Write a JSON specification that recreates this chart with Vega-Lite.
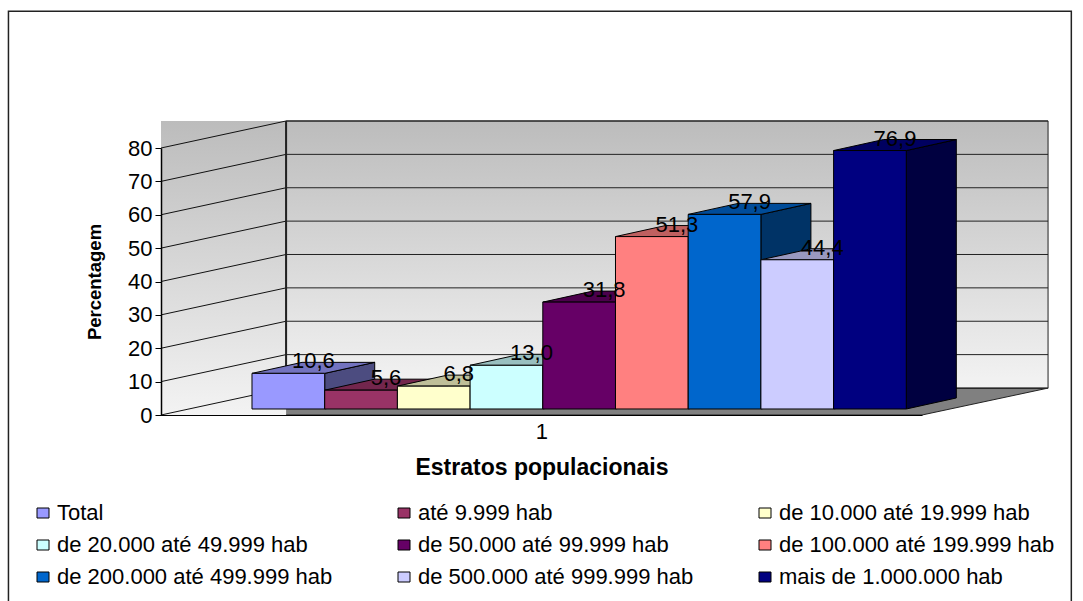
{
  "$schema": "https://vega.github.io/schema/vega-lite/v6.json",
  "width": 761,
  "height": 267,
  "autosize": "none",
  "padding": {"left": 161, "top": 148, "right": 161, "bottom": 186},
  "background": "white",
  "config": {
    "view": {"stroke": null},
    "font": "Liberation Sans",
    "axisY": {"tickCount": 9, "labelOverlap": false, "values": [0, 10, 20, 30, 40, 50, 60, 70, 80]}
  },
  "datasets": {
    "estratos": [
      {"estrato": "Total", "ordem": 0, "valor": 10.6},
      {"estrato": "até 9.999 hab", "ordem": 1, "valor": 5.6},
      {"estrato": "de 10.000 até 19.999 hab", "ordem": 2, "valor": 6.8},
      {"estrato": "de 20.000 até 49.999 hab", "ordem": 3, "valor": 13.0},
      {"estrato": "de 50.000 até 99.999 hab", "ordem": 4, "valor": 31.8},
      {"estrato": "de 100.000 até 199.999 hab", "ordem": 5, "valor": 51.3},
      {"estrato": "de 200.000 até 499.999 hab", "ordem": 6, "valor": 57.9},
      {"estrato": "de 500.000 até 999.999 hab", "ordem": 7, "valor": 44.4},
      {"estrato": "mais de 1.000.000 hab", "ordem": 8, "valor": 76.9}
    ],
    "grade": [
      {"nivel": 0}, {"nivel": 10}, {"nivel": 20}, {"nivel": 30}, {"nivel": 40},
      {"nivel": 50}, {"nivel": 60}, {"nivel": 70}, {"nivel": 80}
    ],
    "unico": [{"peca": "fundo"}]
  },
  "resolve": {"scale": {"color": "independent"}},
  "layer": [
    {
      "data": {"name": "unico"},
      "mark": {"type": "rect", "fill": "white", "stroke": "#222222", "strokeWidth": 1.5},
      "encoding": {
        "x": {
          "datum": -3.35, "type": "quantitative",
          "scale": {"domain": [-1.2517, 9.216], "nice": false, "zero": false},
          "axis": {
            "values": [3.982], "labelExpr": "'1'", "ticks": false, "grid": false,
            "domainColor": "#000000", "domainWidth": 1.2,
            "labelFontSize": 22, "labelColor": "#000000", "labelPadding": 6,
            "title": "Estratos populacionais", "titleFontSize": 23, "titleFontWeight": "bold",
            "titleColor": "#000000", "titlePadding": 14, "zindex": 1
          }
        },
        "x2": {"datum": 11.27},
        "y": {
          "datum": 121, "type": "quantitative",
          "scale": {"domain": [0, 80], "nice": false, "zero": false},
          "axis": {
            "values": [0, 10, 20, 30, 40, 50, 60, 70, 80], "tickCount": 9, "grid": false, "labelOverlap": false,
            "domainColor": "#000000", "domainWidth": 1.5,
            "tickColor": "#000000", "tickSize": 6, "tickWidth": 1,
            "labelFontSize": 22, "labelColor": "#000000", "labelPadding": 3,
            "title": "Percentagem", "titleFontSize": 18.5, "titleFontWeight": "bold",
            "titleColor": "#000000", "titlePadding": 23, "zindex": 1
          }
        },
        "y2": {"datum": -70}
      }
    },
    {
      "data": {"name": "grade"},
      "transform": [
        {"filter": "datum.nivel === 0"},
        {"calculate": "[0, 1]", "as": "d"},
        {"flatten": ["d"]},
        {"calculate": "-1.2517 + 1.72 * datum.d", "as": "x0"},
        {"calculate": "9.216 + 1.72 * datum.d", "as": "x1"},
        {"calculate": "8 * datum.d", "as": "y0"}
      ],
      "mark": {"type": "area", "orient": "horizontal", "fill": "#808080", "stroke": "#222222", "strokeWidth": 1},
      "encoding": {
        "x": {"field": "x0", "type": "quantitative", "stack": null},
        "x2": {"field": "x1"},
        "y": {"field": "y0", "type": "quantitative"}
      }
    },
    {
      "data": {"name": "unico"},
      "mark": {
        "type": "rect",
        "fill": {"gradient": "linear", "x1": 0, "y1": 0, "x2": 0, "y2": 1,
          "stops": [{"offset": 0, "color": "#bcbcbc"}, {"offset": 1, "color": "#f3f3f3"}]}
      },
      "encoding": {
        "x": {"datum": -1.2517, "type": "quantitative"},
        "x2": {"datum": 0.469},
        "y": {"datum": 88.09, "type": "quantitative"},
        "y2": {"datum": 0}
      }
    },
    {
      "data": {"name": "unico"},
      "mark": {
        "type": "rect",
        "stroke": "#222222", "strokeWidth": 1,
        "fill": {"gradient": "linear", "x1": 0, "y1": 0, "x2": 0, "y2": 1,
          "stops": [{"offset": 0, "color": "#bcbcbc"}, {"offset": 1, "color": "#f3f3f3"}]}
      },
      "encoding": {
        "x": {"datum": 0.469, "type": "quantitative"},
        "x2": {"datum": 10.95},
        "y": {"datum": 88.09, "type": "quantitative"},
        "y2": {"datum": 8}
      }
    },
    {
      "data": {"name": "grade"},
      "transform": [{"calculate": "datum.nivel + 8.09", "as": "fundo"}],
      "mark": {"type": "rule", "color": "#111111", "strokeWidth": 1},
      "encoding": {
        "x": {"datum": -1.2517, "type": "quantitative"},
        "x2": {"datum": 0.469},
        "y": {"field": "nivel", "type": "quantitative"},
        "y2": {"field": "fundo"}
      }
    },
    {
      "data": {"name": "grade"},
      "transform": [{"calculate": "datum.nivel + 8.09", "as": "fundo"}],
      "mark": {"type": "rule", "color": "#222222", "strokeWidth": 1},
      "encoding": {
        "x": {"datum": 0.469, "type": "quantitative"},
        "x2": {"datum": 10.95},
        "y": {"field": "fundo", "type": "quantitative"}
      }
    },
    {
      "data": {"name": "unico"},
      "mark": {"type": "rule", "color": "#222222", "strokeWidth": 2},
      "encoding": {
        "x": {"datum": 0.469, "type": "quantitative"},
        "y": {"datum": 8.09, "type": "quantitative"},
        "y2": {"datum": 88.09}
      }
    },
    {
      "data": {"name": "estratos"},
      "transform": [
        {"calculate": "[0, 1]", "as": "d"},
        {"flatten": ["d"]},
        {"calculate": "datum.ordem + 1 + 0.688 * datum.d", "as": "xFace"},
        {"calculate": "1.8 + 3.3 * datum.d", "as": "yBase"},
        {"calculate": "1.8 + 1.007 * datum.valor + 3.3 * datum.d", "as": "yTopo"}
      ],
      "mark": {"type": "area", "stroke": "#000000", "strokeWidth": 1},
      "encoding": {
        "x": {"field": "xFace", "type": "quantitative"},
        "y": {"field": "yTopo", "type": "quantitative", "stack": null},
        "y2": {"field": "yBase"},
        "color": {
          "field": "estrato", "type": "nominal", "legend": null, "sort": {"field": "ordem"},
          "scale": {"range": ["#4c4c80", "#4c1933", "#808066", "#668080", "#330033", "#804040", "#003366", "#666680", "#000040"]}
        }
      }
    },
    {
      "data": {"name": "estratos"},
      "transform": [
        {"calculate": "[0, 1]", "as": "d"},
        {"flatten": ["d"]},
        {"calculate": "datum.ordem + 0.688 * datum.d", "as": "xEsq"},
        {"calculate": "datum.ordem + 1 + 0.688 * datum.d", "as": "xDir"},
        {"calculate": "1.8 + 1.007 * datum.valor + 3.3 * datum.d", "as": "yTopo"}
      ],
      "mark": {"type": "area", "orient": "horizontal", "stroke": "#000000", "strokeWidth": 1},
      "encoding": {
        "x": {"field": "xEsq", "type": "quantitative", "stack": null},
        "x2": {"field": "xDir"},
        "y": {"field": "yTopo", "type": "quantitative"},
        "color": {
          "field": "estrato", "type": "nominal", "legend": null, "sort": {"field": "ordem"},
          "scale": {"range": ["#7373bf", "#73264d", "#bfbf99", "#99bfbf", "#4c004c", "#bf6060", "#004c99", "#9999bf", "#000060"]}
        }
      }
    },
    {
      "data": {"name": "estratos"},
      "transform": [
        {"calculate": "datum.ordem + 1", "as": "xDir"},
        {"calculate": "1.8", "as": "yBase"},
        {"calculate": "1.8 + 1.007 * datum.valor", "as": "yTopo"}
      ],
      "mark": {"type": "rect", "stroke": "#000000", "strokeWidth": 1},
      "encoding": {
        "x": {"field": "ordem", "type": "quantitative"},
        "x2": {"field": "xDir"},
        "y": {"field": "yTopo", "type": "quantitative"},
        "y2": {"field": "yBase"},
        "color": {
          "field": "estrato", "type": "nominal", "sort": {"field": "ordem"},
          "scale": {
            "domain": ["Total", "até 9.999 hab", "de 10.000 até 19.999 hab", "de 20.000 até 49.999 hab", "de 50.000 até 99.999 hab", "de 100.000 até 199.999 hab", "de 200.000 até 499.999 hab", "de 500.000 até 999.999 hab", "mais de 1.000.000 hab"],
            "range": ["#9999ff", "#993366", "#ffffcc", "#ccffff", "#660066", "#ff8080", "#0066cc", "#ccccff", "#000080"]
          },
          "legend": {
            "orient": "none", "legendX": -129, "legendY": 354,
            "direction": "horizontal", "columns": 3, "gridAlign": "all",
            "title": null, "columnPadding": 60, "rowPadding": 10,
            "symbolType": "M-0.6,-0.5H0.6V0.5H-0.6Z", "symbolSize": 400,
            "symbolStrokeColor": "#000000", "symbolStrokeWidth": 1,
            "labelFontSize": 22, "labelColor": "#000000", "labelOffset": 3, "labelLimit": 400
          }
        }
      }
    },
    {
      "data": {"name": "estratos"},
      "transform": [
        {"calculate": "datum.ordem + 0.5 + 0.344", "as": "xTexto"},
        {"calculate": "1.8 + 1.007 * datum.valor + 3.3 + 0.3", "as": "yTexto"},
        {"calculate": "replace(format(datum.valor, '.1f'), '.', ',')", "as": "rotulo"}
      ],
      "mark": {"type": "text", "align": "center", "baseline": "middle", "fontSize": 22, "color": "#000000"},
      "encoding": {
        "x": {"field": "xTexto", "type": "quantitative"},
        "y": {"field": "yTexto", "type": "quantitative"},
        "text": {"field": "rotulo"}
      }
    }
  ]
}
